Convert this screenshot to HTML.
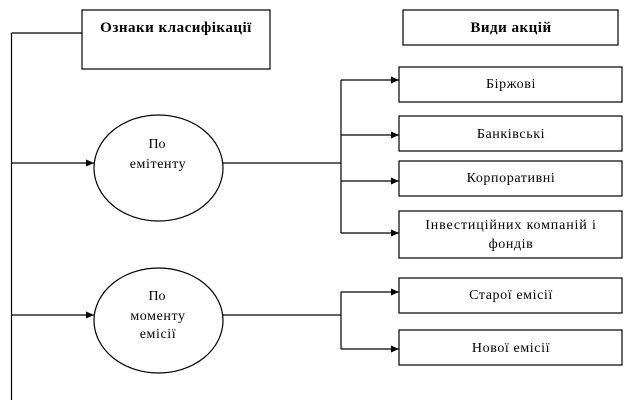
<!DOCTYPE html>
<html><head><meta charset="utf-8"><style>
html,body{margin:0;padding:0;background:#fff;}
svg{display:block;}
text{font-family:"Liberation Serif","DejaVu Serif",serif;font-size:14px;fill:#000;}
.b{font-weight:bold;font-size:15px;}
</style></head><body>
<svg width="633" height="400" viewBox="0 0 633 400" xmlns="http://www.w3.org/2000/svg">
<defs>
<marker id="a" markerWidth="9" markerHeight="9" refX="8" refY="4.5" orient="auto" markerUnits="userSpaceOnUse">
<path d="M0,1 L8,4.5 L0,8 Z" fill="#000"/>
</marker>
</defs>
<g stroke="#000" stroke-width="1.2" fill="none">
<rect x="82" y="10" width="188" height="59" fill="#fff"/>
<rect x="403" y="10" width="215" height="35" fill="#fff"/>
<line x1="11.5" y1="33" x2="82" y2="33"/>
<line x1="11.5" y1="33" x2="11.5" y2="400"/>
<line x1="11.5" y1="163" x2="94" y2="163" marker-end="url(#a)"/>
<line x1="11.5" y1="315" x2="94" y2="315" marker-end="url(#a)"/>
<ellipse cx="158.5" cy="168" rx="64.5" ry="53" fill="#fff"/>
<ellipse cx="158.5" cy="320.5" rx="64.5" ry="52.5" fill="#fff"/>
<line x1="223" y1="163" x2="341" y2="163"/>
<line x1="341" y1="80" x2="341" y2="233"/>
<line x1="341" y1="80" x2="399" y2="80" marker-end="url(#a)"/>
<line x1="341" y1="135" x2="399" y2="135" marker-end="url(#a)"/>
<line x1="341" y1="181" x2="399" y2="181" marker-end="url(#a)"/>
<line x1="341" y1="233" x2="399" y2="233" marker-end="url(#a)"/>
<line x1="223" y1="315" x2="341" y2="315"/>
<line x1="341" y1="292" x2="341" y2="349"/>
<line x1="341" y1="292" x2="399" y2="292" marker-end="url(#a)"/>
<line x1="341" y1="349" x2="399" y2="349" marker-end="url(#a)"/>
<rect x="399" y="67" width="223" height="35" fill="#fff"/>
<rect x="399" y="116" width="223" height="35" fill="#fff"/>
<rect x="399" y="161" width="223" height="35" fill="#fff"/>
<rect x="399" y="211" width="223" height="47" fill="#fff"/>
<rect x="399" y="278" width="223" height="35" fill="#fff"/>
<rect x="399" y="330" width="223" height="35" fill="#fff"/>
</g>
<g text-anchor="middle">
<text class="b" x="176" y="32" letter-spacing="0.5">Ознаки класифікації</text>
<text class="b" x="511" y="32" letter-spacing="0.5">Види акцій</text>
<text x="157" y="148">По</text>
<text x="158" y="168" letter-spacing="0.6">емітенту</text>
<text x="157" y="300">По</text>
<text x="158" y="320" letter-spacing="0.6">моменту</text>
<text x="158" y="338" letter-spacing="0.6">емісії</text>
<text x="511" y="88" letter-spacing="0.6">Біржові</text>
<text x="511" y="138" letter-spacing="0.6">Банківські</text>
<text x="511" y="182" letter-spacing="0.6">Корпоративні</text>
<text x="511" y="229" letter-spacing="0.85">Інвестиційних компаній і</text>
<text x="511" y="248" letter-spacing="0.6">фондів</text>
<text x="511" y="299" letter-spacing="0.6">Старої емісії</text>
<text x="511" y="352" letter-spacing="0.6">Нової емісії</text>
</g>
</svg>
</body></html>
